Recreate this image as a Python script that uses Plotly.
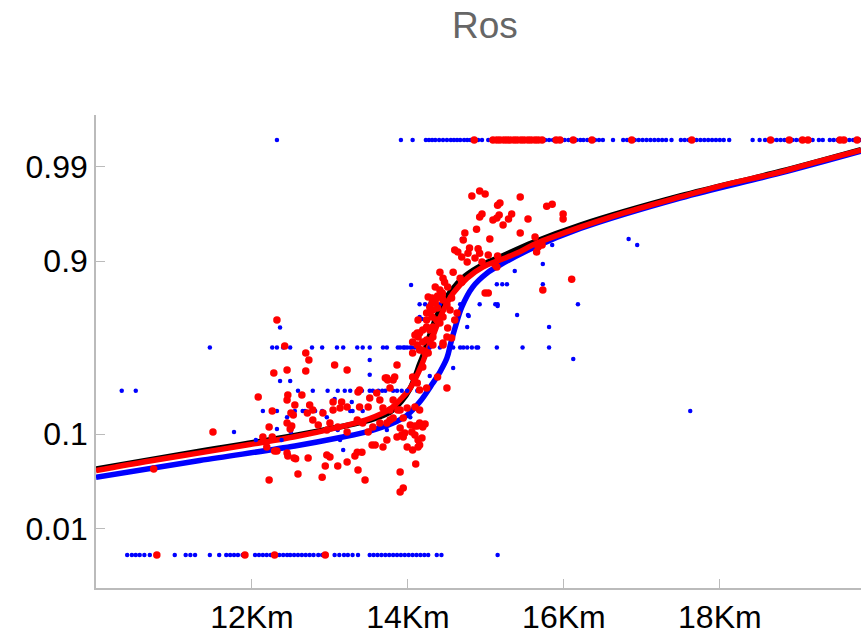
import numpy as np
import plotly.graph_objects as go

# ---------------- data ----------------
x_tick_vals = [12, 14, 16, 18]
x_tick_text = ["12Km", "14Km", "16Km", "18Km"]
y_tick_probs = [0.01, 0.1, 0.9, 0.99]
y_tick_text = ["0.01", "0.1", "0.9", "0.99"]

# fitted curves (distance in km, probability)
black_km = [10.00, 11.33, 12.55, 13.13, 13.51, 13.77, 13.92, 14.03, 14.10, 14.15, 14.21, 14.26,
            14.31, 14.37, 14.45, 14.54, 14.73, 14.96, 15.18, 15.60, 16.21, 17.49, 18.77, 19.81]
black_p = [0.0436, 0.0668, 0.0965, 0.1178, 0.1368, 0.1626, 0.2042, 0.263, 0.3321, 0.3967, 0.4715, 0.5476,
           0.6214, 0.6901, 0.7513, 0.8038, 0.8602, 0.8918, 0.9088, 0.9351, 0.9574, 0.9792, 0.98872, 0.99351]

blue_km = [10.00, 11.33, 12.55, 13.13, 13.51, 13.81, 13.99, 14.15, 14.32, 14.41, 14.50, 14.55,
           14.60, 14.69, 14.83, 15.01, 15.18, 15.60, 16.21, 17.49, 18.77, 19.81]
blue_p = [0.0356, 0.0536, 0.0757, 0.0922, 0.1070, 0.1280, 0.1525, 0.2002, 0.2886, 0.3492, 0.4337, 0.5285,
          0.6154, 0.7367, 0.8231, 0.8683, 0.8906, 0.9262, 0.9537, 0.9781, 0.98828, 0.99327]

red_km = [10.00, 10.69, 11.33, 11.97, 12.55, 13.13, 13.51, 13.77, 13.92, 14.03, 14.10, 14.17, 14.22,
          14.27, 14.32, 14.385, 14.45, 14.58, 14.76, 14.96, 15.18, 15.40, 15.60, 15.82, 16.21, 16.72,
          17.49, 18.00, 18.77, 19.28, 19.81]
red_p = [0.0421, 0.0530, 0.0644, 0.0784, 0.0939, 0.1178, 0.1413, 0.1733, 0.217, 0.263, 0.3154, 0.3846, 0.4462,
         0.5095, 0.5725, 0.6508, 0.7166, 0.7998, 0.854, 0.8855, 0.9024, 0.9169, 0.9312, 0.9417, 0.9553, 0.9675,
         0.9787, 0.98377, 0.98857, 0.99134, 0.99343]

# red observations: left cluster
red_a_km = [10.74, 11.50, 12.08, 12.14, 12.19, 12.22, 12.22, 12.26, 12.26, 12.28,
            12.29, 12.32, 12.32, 12.42, 12.45, 12.46, 12.46, 12.49, 12.50, 12.51,
            12.54, 12.59, 12.45, 12.55, 12.45, 12.53, 12.56, 12.45, 12.64, 12.69,
            12.73, 12.69, 12.72, 12.74, 12.78, 12.71, 12.78, 12.85, 12.90, 12.91,
            12.94, 12.96, 12.96, 13.00, 13.00, 13.04, 13.04, 13.06, 13.10, 13.10,
            13.13, 13.15, 13.22, 13.22, 13.22, 13.22, 13.35, 13.35, 13.32, 13.36,
            13.36, 13.38, 13.38, 13.41, 13.42, 13.45, 13.49, 13.49, 13.51, 13.54,
            13.55, 13.58, 13.60, 13.64, 13.64, 13.68, 13.68, 13.71, 13.73, 13.73,
            13.73, 13.74, 13.77, 13.77, 13.77, 13.81, 13.81, 13.81, 13.83, 13.86,
            13.86, 13.87, 13.90, 13.90, 13.90, 13.90, 13.92, 13.94, 13.94, 13.94,
            13.96, 13.99, 13.99, 14.03, 14.05, 14.06, 14.09, 14.09, 14.09, 14.10,
            14.12, 14.13, 14.13, 14.15, 14.15, 14.15, 14.18, 14.19, 14.22]
red_a_p = [0.0437, 0.1046, 0.2215, 0.0934, 0.0740, 0.1172, 0.0333, 0.1662, 0.0934, 0.3436,
           0.0673, 0.6679, 0.0673, 0.5095, 0.3608, 0.2302, 0.0597, 0.1120, 0.1594, 0.1196,
           0.0570, 0.0387, 0.2085, 0.1883, 0.1282, 0.1525, 0.0560, 0.0641, 0.2302, 0.4651,
           0.4212, 0.3549, 0.0570, 0.1883, 0.1697, 0.1594, 0.1368, 0.1224, 0.0357, 0.1594,
           0.0469, 0.1094, 0.0611, 0.1282, 0.0583, 0.2004, 0.1697, 0.3906, 0.1172, 0.0469,
           0.1771, 0.2004, 0.3608, 0.1808, 0.1046, 0.0517, 0.1368, 0.0653, 0.0597, 0.2442,
           0.0426, 0.2535, 0.1808, 0.0653, 0.1282, 0.0333, 0.1808, 0.1046, 0.2171, 0.0774,
           0.1172, 0.0774, 0.2395, 0.2085, 0.1282, 0.1771, 0.0740, 0.3155, 0.3155, 0.1282,
           0.0870, 0.3045, 0.2634, 0.1697, 0.1368, 0.3045, 0.2085, 0.1430, 0.3210, 0.3906,
           0.0934, 0.1697, 0.1697, 0.1146, 0.0407, 0.0248, 0.0976, 0.1430, 0.0934, 0.0274,
           0.1022, 0.1771, 0.0740, 0.1224, 0.1046, 0.0688, 0.1808, 0.1196, 0.0976, 0.0493,
           0.1196, 0.0870, 0.0740, 0.1697, 0.1282, 0.0774, 0.0914, 0.1172, 0.1254]

# red observations: steep part
red_b_km = [14.06, 14.12, 14.15, 14.24, 14.06, 14.15, 14.19, 14.12, 14.19, 14.13,
            14.24, 14.32, 14.24, 14.31, 14.06, 14.12, 14.09, 14.13, 14.19, 14.18,
            14.22, 14.26, 14.32, 14.45, 14.32, 14.45, 14.38, 14.50, 14.28, 14.32,
            14.38, 14.44, 14.47, 14.63, 14.60, 14.51, 14.50, 14.56, 14.28, 14.31,
            14.24, 14.37, 14.41, 14.32, 14.28, 14.24, 14.45, 14.15, 14.35, 14.38,
            14.50, 14.54, 14.44, 14.45, 14.37, 14.31, 14.26, 14.56, 14.35, 14.41,
            14.51, 14.41, 14.58, 14.45, 14.67, 14.69, 14.99, 15.03]
red_b_p = [0.3210, 0.2888, 0.2535, 0.2634, 0.4651, 0.4841, 0.3787, 0.5912, 0.6094, 0.6679,
           0.7060, 0.7217, 0.5476, 0.7558, 0.5350, 0.5159, 0.5788, 0.5664, 0.5350, 0.4841,
           0.4651, 0.4651, 0.5159, 0.5159, 0.5664, 0.5286, 0.3210, 0.2634, 0.7372, 0.7698,
           0.7872, 0.7996, 0.8406, 0.7060, 0.6679, 0.6214, 0.5664, 0.5601, 0.7060, 0.6844,
           0.6679, 0.6679, 0.6508, 0.6273, 0.6094, 0.6273, 0.6844, 0.5912, 0.7558, 0.7317,
           0.7465, 0.7217, 0.7915, 0.7698, 0.7785, 0.7785, 0.7829, 0.7785, 0.8234, 0.8117,
           0.8234, 0.8718, 0.8718, 0.8537, 0.8537, 0.8406, 0.7998, 0.7998]

# red observations: upper part
red_c_km = [14.60, 14.64, 14.79, 14.77, 14.90, 14.92, 14.86, 14.76, 14.95, 14.69,
            15.03, 15.15, 15.12, 15.14, 14.73, 14.71, 15.05, 14.88, 15.44, 15.63,
            15.67, 15.72, 15.65, 14.95, 14.92, 15.14, 15.17, 15.09, 15.33, 15.29,
            15.22, 15.54, 15.99, 15.99, 14.82, 14.92, 14.99, 15.44, 15.18, 15.15,
            15.78, 15.85, 16.10, 15.73]
red_c_p = [0.9226, 0.9189, 0.9262, 0.9167, 0.9247, 0.9167, 0.9068, 0.8978, 0.8978, 0.9088,
           0.9130, 0.9109, 0.8906, 0.8855, 0.9483, 0.9389, 0.9403, 0.9530, 0.9483, 0.9432,
           0.9279, 0.9312, 0.9189, 0.9675, 0.9650, 0.9641, 0.9667, 0.9623, 0.9675, 0.9632,
           0.9574, 0.9632, 0.9675, 0.9632, 0.9792, 0.9816, 0.9802, 0.9787, 0.9752, 0.9739,
           0.9732, 0.9745, 0.8505, 0.8117]

# red observations with outcome 1 and 0
red_one_km = [14.85, 15.09, 15.14, 15.18, 15.23, 15.27, 15.31, 15.36, 15.40, 15.45,
              15.49, 15.54, 15.58, 15.63, 15.67, 15.72, 15.90, 15.95, 16.12, 16.36,
              16.87, 17.64, 18.65, 18.89, 19.06, 19.13, 19.54, 19.59, 19.76]
red_zero_km = [10.78, 11.91, 12.29, 12.94]

# blue observations on rows of common fractions
blue_half_km = [11.46, 12.26, 12.32, 12.40, 12.49, 12.77, 12.90, 13.09, 13.17, 13.35,
                13.42, 13.51, 13.68, 13.73, 13.87, 13.90, 13.94, 13.96, 13.99, 14.03,
                14.05, 14.09, 14.15, 14.28, 14.41, 14.58, 14.67, 14.71, 14.76, 14.82,
                14.88, 14.90, 15.14, 15.47, 15.81]
blue_quarter_km = [10.33, 10.51, 12.59, 12.78, 12.97, 13.10, 13.19, 13.26, 13.38, 13.41,
                   13.51, 13.55, 13.62, 13.67, 13.71, 13.81, 13.86, 13.92, 13.99, 14.12, 14.24]
blue_threeq_km = [14.15, 14.22, 14.28, 14.32, 14.41, 14.50, 14.67, 14.92, 15.12, 15.15, 16.18]
blue_sixth_km = [12.14, 12.32, 12.55, 12.65, 12.68, 12.78, 12.81, 12.90, 13.03, 13.04,
                 13.26, 13.29, 13.42, 17.62]
blue_other_km = [12.36, 12.49, 12.36, 12.32, 12.50, 11.77, 12.05, 13.51, 13.51, 13.28,
                 13.06, 12.45, 12.96, 14.03, 13.10, 13.73, 14.13, 12.38, 13.17, 13.32,
                 13.13, 14.04, 14.18, 14.78, 14.76, 14.58, 14.28, 14.69, 15.85, 15.73,
                 15.37, 15.14, 15.21, 15.27, 15.73, 15.15, 14.77, 15.40, 15.81, 14.15,
                 16.12, 16.83, 16.94]
blue_other_p = [0.30, 0.30, 0.625, 0.1120, 0.1046, 0.1046, 0.0870, 0.4212, 0.3333, 0.2000,
                0.2130, 0.1458, 0.1458, 0.1458, 0.1094, 0.1094, 0.0870, 0.0870, 0.0688, 0.0611,
                0.0870, 0.8303, 0.6735, 0.6903, 0.6273, 0.3727, 0.3266, 0.9403, 0.9312, 0.8932,
                0.8750, 0.8333, 0.8333, 0.8333, 0.8333, 0.7416, 0.6955, 0.6955, 0.6273, 0.6844,
                0.4275, 0.9403, 0.9312]

blue_one_km = [12.32, 13.91, 14.06, 14.23, 14.27, 14.31, 14.35, 14.40, 14.45, 14.50,
               14.55, 14.59, 14.63, 14.67, 14.72, 14.76, 14.80, 14.85, 14.90, 14.95,
               15.03, 15.20, 15.35, 15.50, 15.65, 15.72, 15.76, 15.81, 15.86, 15.91,
               15.96, 16.01, 16.06, 16.16, 16.21, 16.25, 16.30, 16.35, 16.40, 16.45,
               16.50, 16.63, 16.76, 16.81, 16.86, 16.91, 16.96, 17.01, 17.06, 17.11,
               17.16, 17.21, 17.26, 17.31, 17.38, 17.50, 17.55, 17.60, 17.65, 17.70,
               17.75, 17.80, 17.85, 17.90, 17.95, 18.00, 18.05, 18.12, 18.42, 18.51,
               18.58, 18.63, 18.68, 18.73, 18.78, 18.83, 18.88, 18.93, 18.98, 19.03,
               19.08, 19.13, 19.19, 19.27, 19.32, 19.41, 19.46, 19.51, 19.56, 19.61,
               19.66, 19.71, 19.76, 19.81]
blue_zero_km = [10.40, 10.46, 10.51, 10.56, 10.62, 10.69, 11.01, 11.15, 11.21, 11.27,
                11.46, 11.58, 11.67, 11.72, 11.77, 11.82, 11.88, 12.04, 12.09, 12.14,
                12.19, 12.24, 12.29, 12.35, 12.40, 12.45, 12.49, 12.54, 12.59, 12.64,
                12.69, 12.74, 12.79, 12.85, 12.90, 13.06, 13.12, 13.18, 13.23, 13.29,
                13.36, 13.51, 13.56, 13.61, 13.66, 13.71, 13.76, 13.81, 13.86, 13.91,
                13.96, 14.01, 14.06, 14.11, 14.16, 14.21, 14.26, 14.37, 14.43, 15.15]

# ---------------- logit scale ----------------
P_MIN, P_MAX = 0.0051, 0.9949


def logit(p):
    p = np.clip(np.asarray(p, dtype=float), P_MIN, P_MAX)
    return np.log(p / (1.0 - p))


blue_obs_km = (blue_half_km + blue_quarter_km + blue_threeq_km + blue_sixth_km
               + blue_other_km + blue_one_km + blue_zero_km)
blue_obs_p = ([0.5] * len(blue_half_km) + [0.25] * len(blue_quarter_km)
              + [0.75] * len(blue_threeq_km) + [1 / 6] * len(blue_sixth_km)
              + blue_other_p + [1.0] * len(blue_one_km) + [0.0] * len(blue_zero_km))

red_obs_km = red_a_km + red_b_km + red_c_km + red_one_km + red_zero_km
red_obs_p = (red_a_p + red_b_p + red_c_p + [1.0] * len(red_one_km)
             + [0.0] * len(red_zero_km))

fig = go.Figure()
LW = 5.5
fig.add_trace(go.Scatter(x=black_km, y=logit(black_p), mode="lines",
                         line=dict(color="#000000", width=LW, shape="spline")))
fig.add_trace(go.Scatter(x=blue_km, y=logit(blue_p), mode="lines",
                         line=dict(color="#0000ff", width=LW, shape="spline")))
fig.add_trace(go.Scatter(x=red_km, y=logit(red_p), mode="lines",
                         line=dict(color="#ff0000", width=LW, shape="spline")))
fig.add_trace(go.Scatter(x=blue_obs_km, y=logit(blue_obs_p), mode="markers",
                         marker=dict(color="#0000ff", size=4.5, line=dict(width=0))))
fig.add_trace(go.Scatter(x=red_obs_km, y=logit(red_obs_p), mode="markers",
                         marker=dict(color="#ff0000", size=7.5, line=dict(width=0))))

FONT = "Liberation Sans, Arial, Helvetica, sans-serif"
AX = "#bbbbbb"
TICK_SIZE = 32

fig.update_layout(
    width=861, height=633,
    margin=dict(l=96, r=0, t=115, b=45),
    paper_bgcolor="white", plot_bgcolor="white",
    showlegend=False,
    font=dict(family=FONT, size=TICK_SIZE, color="#000000"),
    xaxis=dict(range=[10.0, 19.81], showgrid=False, zeroline=False, automargin=False,
               showline=True, linecolor=AX, linewidth=1.5,
               ticks="inside", ticklen=9, tickcolor=AX, tickwidth=1,
               tickvals=x_tick_vals, ticktext=x_tick_text,
               tickfont=dict(family=FONT, size=TICK_SIZE, color="#000000")),
    yaxis=dict(range=[-6.11, 5.91], showgrid=False, zeroline=False, automargin=False,
               showline=True, linecolor=AX, linewidth=1.5,
               ticks="inside", ticklen=9, tickcolor=AX, tickwidth=1,
               tickvals=list(logit(y_tick_probs)), ticktext=y_tick_text,
               tickfont=dict(family=FONT, size=TICK_SIZE, color="#000000")),
    annotations=[dict(text="Ros", xref="paper", yref="paper",
                      x=0.5085, y=1.189, xanchor="center", yanchor="middle",
                      showarrow=False,
                      font=dict(family=FONT, size=37, color="#666666"))],
)

fig.write_html("out.html")
